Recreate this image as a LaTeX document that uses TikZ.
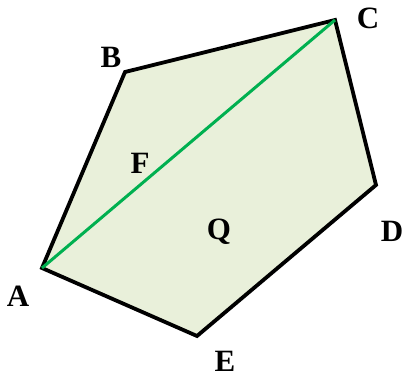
\documentclass[tikz,border=0pt]{standalone}
\usepackage{fontspec}
\setmainfont{Liberation Serif}

\definecolor{facegreen}{HTML}{E9F0DA}
\definecolor{diaggreen}{HTML}{00B050}

\begin{document}
\begin{tikzpicture}[x=1pt, y=-1pt, line join=miter,
    lbl/.style={font=\fontsize{31}{34}\selectfont\bfseries, inner sep=0pt}]
  \useasboundingbox (0,0) rectangle (406,382);

  \coordinate (A) at (42,268);
  \coordinate (B) at (125,72);
  \coordinate (C) at (335,20);
  \coordinate (D) at (376,185);
  \coordinate (E) at (197,336);

  \filldraw[fill=facegreen, draw=black, line width=3.8pt] (A)--(B)--(C)--(D)--(E)--cycle;
  \draw[diaggreen, line width=3pt] (A)--(C);

  \node[lbl] (lA) at (18,296) {A};
  \node[lbl] (lB) at (111,57) {B};
  \node[lbl] (lC) at (368,18) {C};
  \node[lbl] (lD) at (392,231) {D};
  \node[lbl] (lE) at (225,361) {E};
  \node[lbl] (lF) at (140,163) {F};
  \node[lbl] (lQ) at (219,232) {Q};
\end{tikzpicture}
\end{document}
